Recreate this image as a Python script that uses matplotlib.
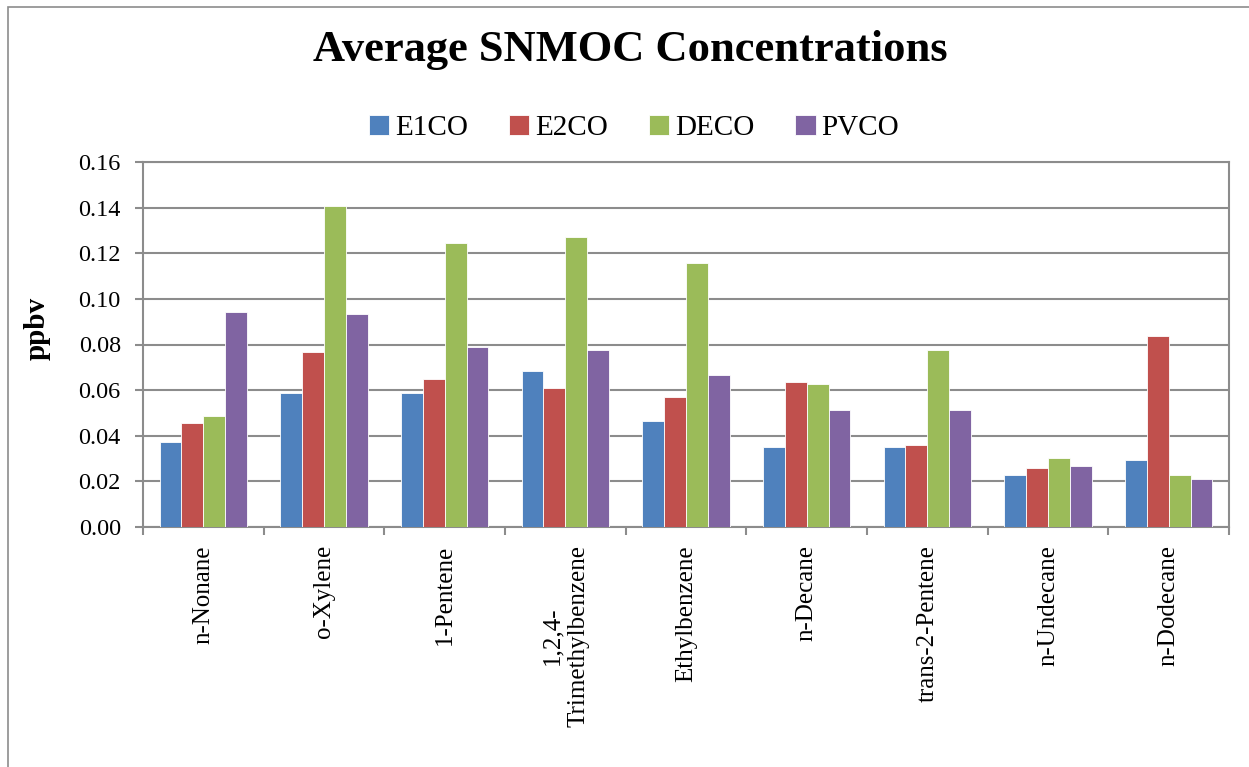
import numpy as np
import matplotlib
matplotlib.use("Agg")
import matplotlib.pyplot as plt
from matplotlib.patches import Rectangle

plt.rcParams['font.family'] = ['Liberation Serif', 'DejaVu Serif']

# data
compounds = ["n-Nonane", "o-Xylene", "1-Pentene", "1,2,4-\nTrimethylbenzene",
             "Ethylbenzene", "n-Decane", "trans-2-Pentene", "n-Undecane", "n-Dodecane"]
series = ["E1CO", "E2CO", "DECO", "PVCO"]
e1co = [0.0374, 0.0586, 0.0586, 0.0685, 0.0463, 0.0351, 0.0351, 0.0229, 0.0292]
e2co = [0.0456, 0.0766, 0.0650, 0.0611, 0.0570, 0.0636, 0.0358, 0.0260, 0.0839]
deco = [0.0488, 0.1408, 0.1246, 0.1270, 0.1156, 0.0625, 0.0774, 0.0301, 0.0228]
pvco = [0.0944, 0.0935, 0.0789, 0.0774, 0.0668, 0.0514, 0.0514, 0.0269, 0.0212]
yticks = [0.00, 0.02, 0.04, 0.06, 0.08, 0.10, 0.12, 0.14, 0.16]

colors = ["#4F81BD", "#C0504D", "#9BBB59", "#8064A2"]
grey = "#8C8C8C"

fig = plt.figure(figsize=(12.49, 7.67), dpi=100)
# outer chart border (only left/top visible in the crop)
fig.patches.append(Rectangle((8 / 1249, -0.1), 1.2, 1 - 7 / 767 + 0.1,
                             transform=fig.transFigure, fill=False,
                             edgecolor=grey, linewidth=1.2))

ax = fig.add_axes([143 / 1249, 1 - 527 / 767, 1086 / 1249, 365 / 767])

x = np.arange(len(compounds))
w = 0.181
for i, (vals, name) in enumerate(zip([e1co, e2co, deco, pvco], series)):
    ax.bar(x + (i - 1.5) * w, vals, width=w, color=colors[i], label=name,
           edgecolor="white", linewidth=0.6, zorder=3)

ax.set_xlim(-0.5, len(compounds) - 0.5)
ax.set_ylim(0, 0.16)
ax.set_yticks(yticks)
ax.set_yticklabels([f"{v:.2f}" for v in yticks], fontsize=17.5)
ax.grid(axis="y", color=grey, linewidth=1.5, zorder=0)

ax.set_xticks(x)
ax.set_xticklabels(compounds, rotation=90, fontsize=18, va="top", ha="center",
                   multialignment="center")
ax.set_xticks(np.arange(len(compounds) + 1) - 0.5, minor=True)
ax.tick_params(axis="x", which="major", length=0, pad=13)
ax.tick_params(axis="x", which="minor", length=6, width=1.5, color=grey, direction="out")
ax.tick_params(axis="y", length=6, width=1.5, color=grey, direction="out", pad=10)

for s in ax.spines.values():
    s.set_color(grey)
    s.set_linewidth(1.5)

ax.set_ylabel("ppbv", fontsize=21, fontweight="bold")
ax.yaxis.set_label_coords(-0.085, 0.545)

fig.text(630 / 1249, 1 - 50 / 767, "Average SNMOC Concentrations",
         fontsize=32, fontweight="bold", ha="center", va="center")

fig.legend(loc="center", bbox_to_anchor=(634 / 1249, 1 - 128 / 767), ncol=4,
           frameon=False, fontsize=21, handlelength=0.7, handleheight=0.7,
           handletextpad=0.2, columnspacing=1.4)

fig.savefig("out.png", dpi=100)
